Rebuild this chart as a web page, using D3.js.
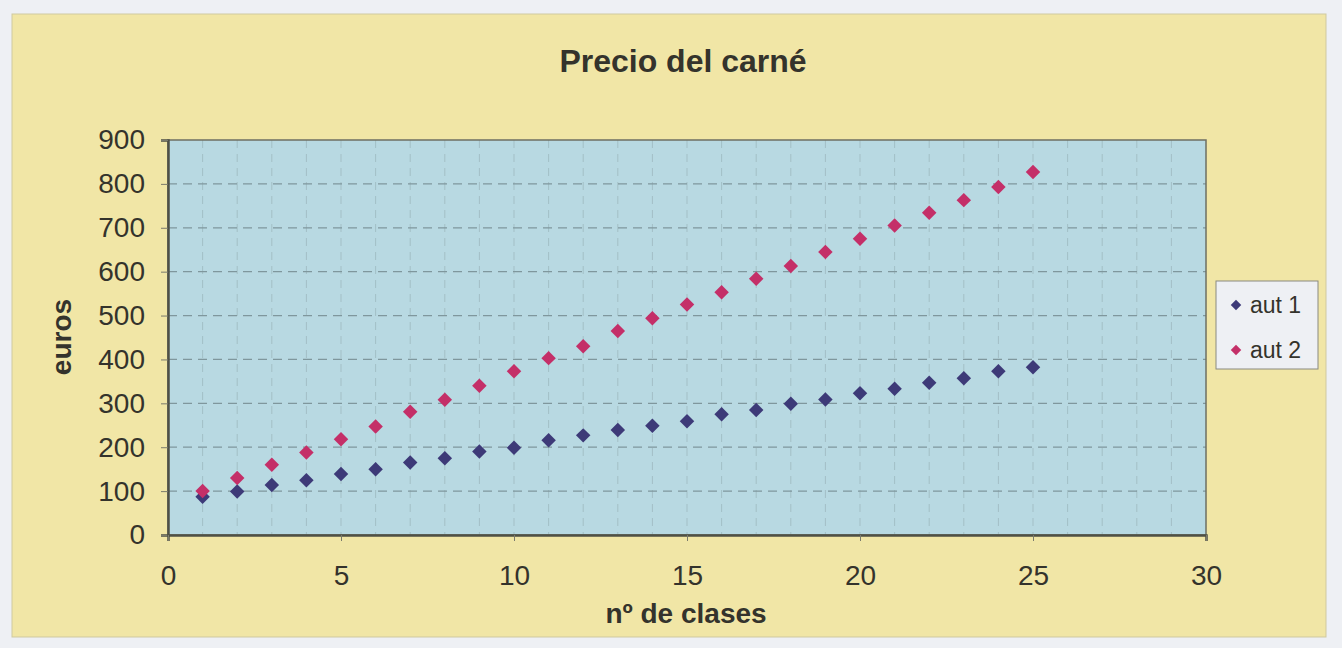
<!DOCTYPE html>
<html>
<head>
<meta charset="utf-8">
<script src="https://cdn.jsdelivr.net/npm/d3@7"></script>
<style>
  html, body { margin: 0; padding: 0; background: #eef0f4; }
  svg { display: block; font-family: "Liberation Sans", Arial, sans-serif; }
</style>
</head>
<body>
<svg width="1342" height="648"></svg>
<script>
// -------------------- Data --------------------
const clases = d3.range(1, 26);
const aut1 = [87, 99, 114, 125, 139, 150, 165, 175, 190, 199, 216, 227, 239, 249, 259,
              275, 285, 299, 309, 323, 333, 347, 357, 373, 382];
const aut2 = [100, 130, 160, 188, 218, 247, 281, 308, 340, 373, 403, 430, 465, 494, 525,
              553, 584, 613, 645, 675, 705, 734, 763, 793, 827];
const seriesNames = ["aut 1", "aut 2"];
const xTicks = [0, 5, 10, 15, 20, 25, 30];
const yTicks = [0, 100, 200, 300, 400, 500, 600, 700, 800, 900];

const colors = { "aut 1": "#3d3a78", "aut 2": "#c42f68" };
const series = [
  { name: "aut 1", values: aut1 },
  { name: "aut 2", values: aut2 }
];

// -------------------- SVG Code --------------------
const svg = d3.select("svg");
const textColor = "#34332c";

// yellow panel
svg.append("rect")
  .attr("x", 12).attr("y", 14)
  .attr("width", 1314).attr("height", 623)
  .attr("fill", "#f1e6a6")
  .attr("stroke", "#cfc9a0")
  .attr("stroke-width", 1);

const plot = { left: 168, right: 1206, top: 140, bottom: 535 };

const x = d3.scaleLinear().domain([0, 30]).range([plot.left, plot.right]);
const y = d3.scaleLinear().domain([0, 900]).range([plot.bottom, plot.top]);

// plot area
svg.append("rect")
  .attr("x", plot.left).attr("y", plot.top)
  .attr("width", plot.right - plot.left).attr("height", plot.bottom - plot.top)
  .attr("fill", "#b8d9e2");

// vertical faint gridlines
svg.append("g")
  .selectAll("line")
  .data(d3.range(1, 30))
  .join("line")
  .attr("x1", d => x(d)).attr("x2", d => x(d))
  .attr("y1", plot.top).attr("y2", plot.bottom)
  .attr("stroke", "#a3bfc6")
  .attr("stroke-width", 1)
  .attr("stroke-dasharray", "8,6");

// horizontal dashed gridlines
svg.append("g")
  .selectAll("line")
  .data(yTicks.filter(d => d > 0 && d < 900))
  .join("line")
  .attr("x1", plot.left).attr("x2", plot.right)
  .attr("y1", d => y(d)).attr("y2", d => y(d))
  .attr("stroke", "#7f979d")
  .attr("stroke-width", 1.2)
  .attr("stroke-dasharray", "9,6");

// plot border
svg.append("rect")
  .attr("x", plot.left).attr("y", plot.top)
  .attr("width", plot.right - plot.left).attr("height", plot.bottom - plot.top)
  .attr("fill", "none")
  .attr("stroke", "#6d6f63")
  .attr("stroke-width", 1.5);

// y axis
const yAxis = svg.append("g")
  .attr("transform", `translate(${plot.left},0)`)
  .call(d3.axisLeft(y).tickValues(yTicks).tickSize(7).tickPadding(16));
yAxis.select(".domain").attr("stroke", "#4f5046").attr("stroke-width", 2.5);
yAxis.selectAll(".tick line").attr("stroke", "#7a7a6c");
yAxis.selectAll("text")
  .attr("fill", textColor)
  .style("font-size", "28px");

// x axis
const xAxis = svg.append("g")
  .attr("transform", `translate(0,${plot.bottom})`)
  .call(d3.axisBottom(x).tickValues(xTicks).tickSize(6).tickPadding(24));
xAxis.select(".domain").attr("stroke", "#4f5046").attr("stroke-width", 2.5);
xAxis.selectAll(".tick line").attr("stroke", "#7a7a6c");
xAxis.selectAll("text")
  .attr("fill", textColor)
  .style("font-size", "28px");

// title
svg.append("text")
  .attr("x", 683).attr("y", 72)
  .attr("text-anchor", "middle")
  .attr("fill", textColor)
  .style("font-size", "32px")
  .style("font-weight", "bold")
  .text("Precio del carné");

// axis titles
svg.append("text")
  .attr("x", 686).attr("y", 623)
  .attr("text-anchor", "middle")
  .attr("fill", textColor)
  .style("font-size", "28px")
  .style("font-weight", "bold")
  .text("nº de clases");

svg.append("text")
  .attr("transform", "translate(71,337) rotate(-90)")
  .attr("text-anchor", "middle")
  .attr("fill", textColor)
  .style("font-size", "28px")
  .style("font-weight", "bold")
  .text("euros");

// markers
const diamond = d3.symbol().type(d3.symbolSquare).size(105);
series.forEach(s => {
  svg.append("g")
    .selectAll("path")
    .data(s.values)
    .join("path")
    .attr("d", diamond)
    .attr("transform", (d, i) => `translate(${x(clases[i])},${y(d)}) rotate(45)`)
    .attr("fill", colors[s.name]);
});

// legend
const legend = svg.append("g").attr("transform", "translate(1216,281)");
legend.append("rect")
  .attr("width", 102).attr("height", 88)
  .attr("fill", "#eef0f4")
  .attr("stroke", "#8a8a80")
  .attr("stroke-width", 1);

const smallDiamond = d3.symbol().type(d3.symbolSquare).size(55);
seriesNames.forEach((name, i) => {
  const row = legend.append("g").attr("transform", `translate(0,${24 + i * 45})`);
  row.append("path")
    .attr("d", smallDiamond)
    .attr("transform", "translate(20,0) rotate(45)")
    .attr("fill", colors[name]);
  row.append("text")
    .attr("x", 34).attr("y", 8)
    .attr("fill", textColor)
    .style("font-size", "23px")
    .text(name);
});
</script>
</body>
</html>
